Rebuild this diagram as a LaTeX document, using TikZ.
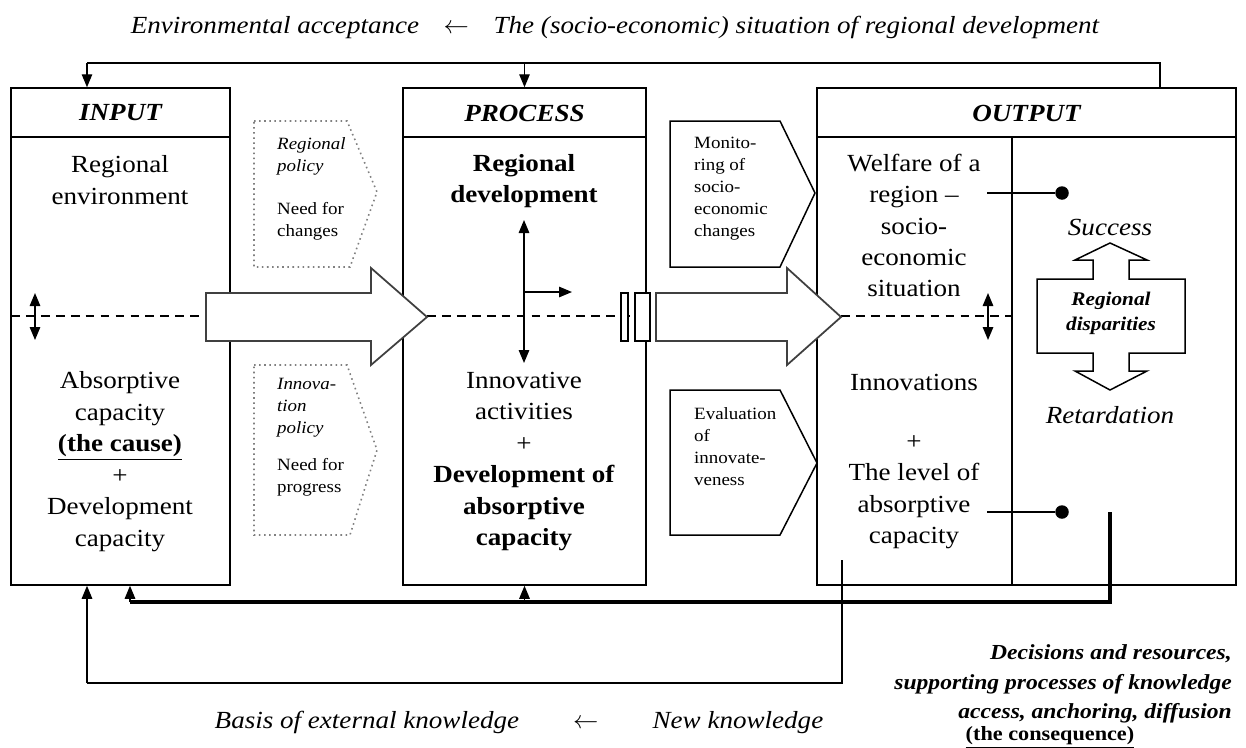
\documentclass[tikz,border=0pt]{standalone}
\usepackage{fontspec}
\setmainfont[FakeStretch=1.1]{Liberation Serif}
\usepackage{tikz}
\usetikzlibrary{arrows.meta}
\usetikzlibrary{fit}
\tikzset{
    box/.style = {draw, line width=0.85pt, inner sep=0pt},
    hdr/.style = {font=\fontsize{14}{17}\selectfont\bfseries\itshape},
    txt/.style = {align=center, font=\fontsize{14}{17.9}\selectfont},
    smalltxt/.style = {align=left, font=\fontsize{9.8}{12.5}\selectfont},
    bigarrow/.style = {draw=black!75, line width=1pt, fill=white},
    dotbox/.style = {draw=black!50, dotted, line width=0.9pt, fill=white},
    solidbox/.style = {draw, line width=0.85pt, fill=white},
    dashes/.style = {dash pattern=on 5pt off 3.5pt, line width=0.7pt},
    fb/.style = {line width=0.75pt},
    fbthick/.style = {line width=1.8pt},
    blob/.style = {circle, fill, inner sep=0pt, minimum size=2.7mm},
    >={Triangle[length=2.6mm, width=2.1mm]}
}

\begin{document}
\begin{tikzpicture}[x=0.2mm, y=-0.2mm]
\useasboundingbox (0,0) rectangle (1246,747);

% the three boxes
\node (inp) [box, fit={(11,88) (230,585)}] {};
\node (proc) [box, fit={(403,88) (646,585)}] {};
\node (outp) [box, fit={(817,88) (1236,585)}] {};
\foreach \a/\b in {11/230, 403/646, 817/1236} {
    \draw[line width=0.85pt] (\a,137) -- (\b,137);
}
\draw[line width=0.85pt] (1012,137) -- (1012,585);

\node (inph) [hdr] at (120.5,113) {INPUT};
\node (proch) [hdr] at (524.5,113) {PROCESS};
\node (outph) [hdr] at (1026.5,113) {OUTPUT};

% top line
\node (envsit) [txt, font=\fontsize{14}{17}\selectfont\itshape] at (615,27)
    {Environmental acceptance\quad$\leftarrow$\quad The (socio-economic) situation of regional development};
\coordinate (ta) at (87,63);
\coordinate (tb) at (1160,63);
\draw[fb] (tb |- outp.north) -- (tb) -- (ta);
\draw[fb, ->] (ta) -- (ta |- inp.north);
\draw[fb, ->] (ta -| proc.north) -- (proc.north);

% dashed middle line
\draw[dashes] (11,316) -- (206,316);
\draw[dashes] (427,316) -- (635,316);
\draw[dashes] (841,316) -- (1012,316);
\foreach \x in {35, 988} {
    \draw[line width=0.8pt, <->] (\x,293) -- (\x,340);
}

% input
\node (regenv) [txt] at (120,180) {Regional\\environment};
\node (abscap) [txt] at (120,461.5)
    {Absorptive\\capacity\\\underline{\textbf{(the cause)}}\\+\\Development\\capacity};

% policies
\draw[dotbox] (254,121) -- (347,121) -- (377,192) -- (350,267) -- (254,267) -- cycle;
\draw[dotbox] (254,365) -- (347,365) -- (377,450) -- (350,535) -- (254,535) -- cycle;
\node (regpol) [smalltxt, anchor=west] at (271,156) {\textit{Regional}\\\textit{policy}};
\node (needch) [smalltxt, anchor=west] at (271,221) {Need for\\changes};
\node (innpol) [smalltxt, anchor=west] at (271,408) {\textit{Innova-}\\\textit{tion}\\\textit{policy}};
\node (needpr) [smalltxt, anchor=west] at (271,477) {Need for\\progress};

% big arrows
\draw[bigarrow] (206,293) -- (371,293) -- (371,268) -- (427,317)
    -- (371,365) -- (371,341) -- (206,341) -- cycle;
\draw[bigarrow] (656,293) -- (787,293) -- (787,268) -- (841,317)
    -- (787,365) -- (787,341) -- (656,341) -- cycle;
\draw[line width=0.8pt, fill=white] (621,293) rectangle (628,341);
\draw[line width=0.8pt, fill=white] (635,293) rectangle (650,341);

% process
\node (regdev) [txt, font=\fontsize{14}{17.9}\selectfont\bfseries] at (524,181) {Regional\\development};
\node (innact) [txt] at (524,461.5)
    {Innovative\\activities\\+\\\textbf{Development of}\\\textbf{absorptive}\\\textbf{capacity}};
\coordinate (pc) at (524,316);
\draw[line width=0.8pt, ->] (pc) -- (524,220);
\draw[line width=0.8pt, ->] (pc) -- (524,363);
\draw[line width=0.8pt, ->] (524,292) -- (572,292);

% monitoring / evaluation
\draw[solidbox] (670,121) -- (780,121) -- (815,193) -- (780,267) -- (670,267) -- cycle;
\draw[solidbox] (670,390) -- (780,390) -- (817,463) -- (780,535) -- (670,535) -- cycle;
\node (monit) [smalltxt, anchor=west] at (688,189)
    {Monito-\\ring of\\socio-\\economic\\changes};
\node (evalu) [smalltxt, anchor=west] at (688,447)
    {Evaluation\\of\\innovate-\\veness};

% output
\node (welf) [txt] at (914,225.5)
    {Welfare of a\\region --\\socio-\\economic\\situation};
\node (innov) [txt] at (914,382) {Innovations};
\node (level) [txt] at (914,492) {+\\The level of\\absorptive\\capacity};
\node (wdot) [blob] at (1062,193) {};
\node (ldot) [blob] at (1062,512) {};
\draw[fb] (987,193) -- (wdot);
\draw[fb] (987,512) -- (ldot);

\node (succ) [txt, font=\fontsize{14}{17}\selectfont\itshape] at (1110,227) {Success};
\node (retard) [txt, font=\fontsize{14}{17}\selectfont\itshape] at (1110,415) {Retardation};
\draw[line width=0.85pt] (1093,279) -- (1093,260) -- (1075,260) -- (1110,243) -- (1147,260)
    -- (1129,260) -- (1129,279) -- (1185,279) -- (1185,353) -- (1129,353) -- (1129,371)
    -- (1147,371) -- (1110,390) -- (1075,371) -- (1093,371) -- (1093,353) -- (1037,353)
    -- (1037,279) -- cycle;
\node (disp) [align=center, font=\fontsize{11}{14.2}\selectfont\bfseries\itshape] at (1111,313)
    {Regional\\disparities};

% feedback below
\coordinate (ba) at (130,602);
\coordinate (bb) at (1110,602);
\draw[fbthick] (1110,512) -- (bb) -- (ba);
\draw[fb, ->] (ba) -- (ba |- inp.south);
\draw[fb, ->] (ba -| proc.south) -- (proc.south);
\coordinate (ca) at (87,683);
\coordinate (cb) at (842,683);
\draw[fb] (842,560) -- (cb) -- (ca);
\draw[fb, ->] (ca) -- (ca |- inp.south);

% texts below
\node (extkn) [font=\fontsize{14}{17}\selectfont\itshape] at (519,722)
    {Basis of external knowledge\hspace{2.2em}$\leftarrow$\hspace{2.2em}New knowledge};
\node (decis) [align=right, anchor=east, font=\fontsize{12.2}{16.6}\selectfont\bfseries\itshape] at (1238,684)
    {Decisions and resources,\\supporting processes of knowledge\\access, anchoring, diffusion};
\node (conseq) [font=\fontsize{11.5}{14}\selectfont\bfseries] at (1050,737) {\underline{(the consequence)}};
\end{tikzpicture}
\end{document}
